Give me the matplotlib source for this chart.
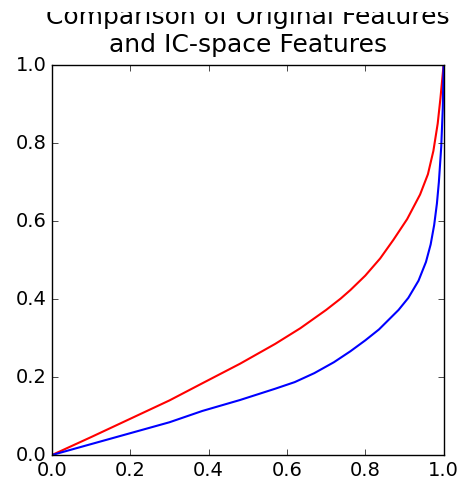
import matplotlib
matplotlib.use("Agg")
import matplotlib.pyplot as plt
from matplotlib.patches import Rectangle

# Curve samples for the two feature sets
orig_x = [0.0, 0.1, 0.2, 0.3, 0.384, 0.48, 0.57, 0.634, 0.7, 0.737, 0.762, 0.8, 0.838, 0.872,
          0.907, 0.94, 0.96, 0.974, 0.985, 0.992, 1.0]
orig_y = [0.0, 0.046, 0.093, 0.14, 0.184, 0.234, 0.285, 0.325, 0.372, 0.401, 0.423, 0.46, 0.504,
          0.552, 0.605, 0.668, 0.72, 0.78, 0.85, 0.915, 1.0]

ic_x = [0.0, 0.1, 0.2, 0.3, 0.384, 0.48, 0.57, 0.62, 0.67, 0.72, 0.762, 0.8, 0.835, 0.885, 0.91,
        0.936, 0.955, 0.967, 0.976, 0.983, 0.988, 0.994, 0.998, 1.0]
ic_y = [0.0, 0.028, 0.056, 0.084, 0.113, 0.141, 0.17, 0.187, 0.21, 0.238, 0.266, 0.294, 0.322,
        0.372, 0.403, 0.447, 0.495, 0.54, 0.59, 0.645, 0.7, 0.79, 0.89, 1.0]

plt.style.use("classic")
fig = plt.figure(figsize=(4.61, 4.82), dpi=100, facecolor="white")
ax = fig.add_axes([0.1128, 0.056, 0.8494, 0.809])

ax.plot(orig_x, orig_y, color="red", linewidth=1.5)
ax.plot(ic_x, ic_y, color="blue", linewidth=1.5)

ax.set_xlim(0, 1)
ax.set_ylim(0, 1)
ax.set_xticks([0.0, 0.2, 0.4, 0.6, 0.8, 1.0])
ax.set_yticks([0.0, 0.2, 0.4, 0.6, 0.8, 1.0])
ax.tick_params(labelsize=14)
ax.set_title("Comparison of Original Features\nand IC-space Features", fontsize=18, pad=9.5)

# the top strip of the canvas is cut off, trimming the first title line
fig.add_artist(Rectangle((0, 1 - 12 / 482), 1, 12 / 482, transform=fig.transFigure,
                         facecolor="white", edgecolor="none", zorder=10))

fig.savefig("out.png", dpi=100, facecolor="white")
